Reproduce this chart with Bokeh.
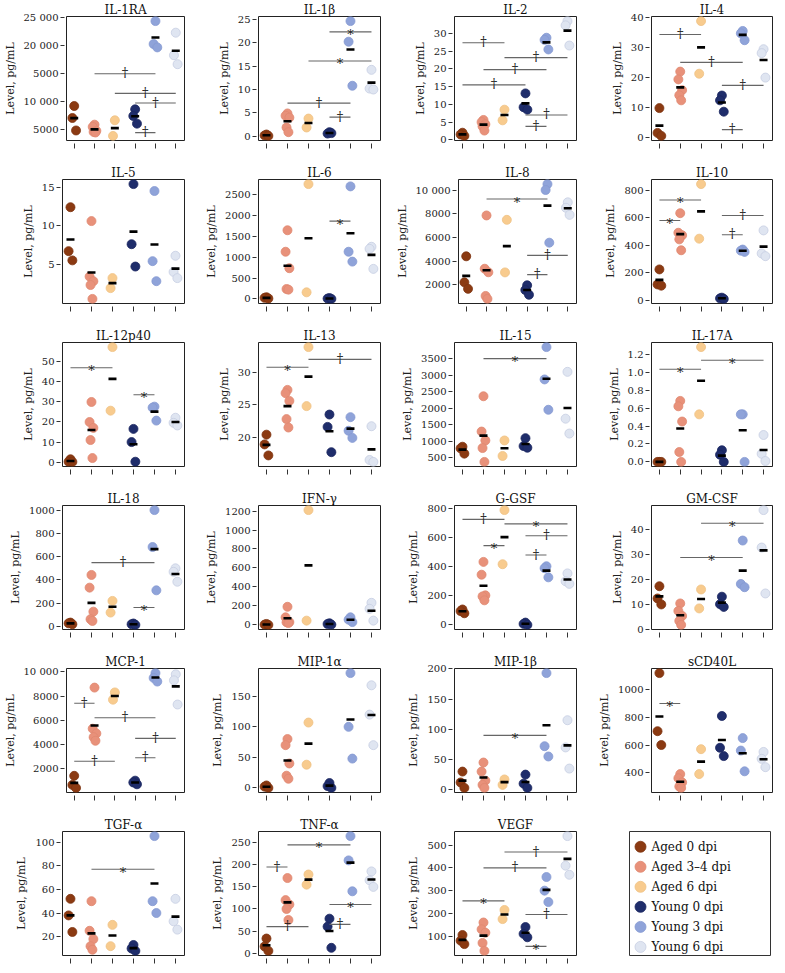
import numpy as np
from bokeh.plotting import figure
from bokeh.models import Range1d, FixedTicker
from bokeh.layouts import column, row
from bokeh.embed import file_html
from bokeh.resources import INLINE
from bokeh.core.properties import value

# ---------------- data ----------------
GROUPS = ["Aged 0 dpi", "Aged 3–4 dpi", "Aged 6 dpi", "Young 0 dpi", "Young 3 dpi", "Young 6 dpi"]
FILL = ["#8b3a12", "#e8917a", "#f8cb8e", "#1f2d6b", "#8fa3d9", "#dfe5f1"]
EDGE = ["#7d3410", "#df8870", "#efc184", "#1a2660", "#8599d2", "#c6cee2"]

IL1RA = [[9230, 7090, 4860], [5900, 5500, 4800, 4600, 4500], [6680, 3890], [8640, 7450, 6080], [24400, 20300, 19700], [22330, 18300, 16700]]
IL1RA_TICKS = [5000, 10000, 15000, 20000, 25000]
IL1RA_LABELS = ["5000", "10 000", "5000", "20 000", "25 000"]
IL1RA_SIG = [(2, 5, 15000, "†"), (3, 6, 11480, "†"), (4, 6, 9760, "†"), (4, 5, 4480, "†")]

IL1B = [[0.4, 0.2, 0.1], [4.9, 4.4, 4.0, 1.9, 0.9], [3.8, 1.9], [0.9, 0.6, 0.7], [24.6, 20.2, 10.8], [14.2, 10.2, 10.0]]
IL1B_TICKS = [0, 5, 10, 15, 20, 25]
IL1B_LABELS = ["0", "5", "10", "15", "20", "25"]
IL1B_SIG = [(4, 6, 22.3, "*"), (3, 6, 16.1, "*"), (2, 5, 7.1, "†"), (4, 5, 4.1, "†")]

IL2 = [[2.0, 1.5, 1.1], [5.6, 5.0, 4.4, 3.8, 2.6], [8.5, 5.5], [13.1, 9.2, 8.5], [28.8, 28.2, 25.5], [33.5, 32.3, 26.6]]
IL2_TICKS = [0, 5, 10, 15, 20, 25, 30]
IL2_LABELS = ["0", "5", "10", "15", "20", "25", "30"]
IL2_SIG = [(1, 3, 27.4, "†"), (3, 6, 23.2, "†"), (2, 5, 19.8, "†"), (1, 4, 15.5, "†"), (4, 6, 7.0, "†"), (4, 5, 3.8, "†")]

IL4 = [[9.8, 1.5, 0.5], [22.0, 19.4, 15.8, 14.1, 12.4], [38.9, 21.3], [14.0, 12.4, 8.6], [35.6, 34.8, 32.5], [29.5, 28.2, 20.0]]
IL4_TICKS = [0, 10, 20, 30, 40]
IL4_LABELS = ["0", "10", "20", "30", "40"]
IL4_SIG = [(1, 3, 34.4, "†"), (2, 5, 25.1, "†"), (4, 6, 17.4, "†"), (4, 5, 2.6, "†")]

IL5 = [[12.4, 6.7, 5.5], [10.6, 3.4, 2.8, 2.3, 0.5], [3.2, 1.9], [15.4, 7.6, 4.7], [14.5, 5.4, 2.8], [6.1, 4.0, 3.2]]
IL5_TICKS = [5, 10, 15]
IL5_LABELS = ["5", "10", "15"]
IL5_SIG = []

IL6 = [[40, 25, 10], [1646, 1131, 736, 237, 222], [2753, 158], [20, 8, 0], [2698, 1131, 894], [1250, 1200, 720]]
IL6_TICKS = [0, 500, 1000, 1500, 2000, 2500]
IL6_LABELS = ["0", "500", "1000", "1500", "2000", "2500"]
IL6_SIG = [(4, 5, 1865, "*")]

IL8 = [[4400, 2200, 1650], [7850, 3350, 3050, 1050, 800], [7480, 3040], [1950, 1550, 1150], [10500, 10000, 5550], [8960, 8500, 7900]]
IL8_TICKS = [2000, 4000, 6000, 8000, 10000]
IL8_LABELS = ["2000", "4000", "6000", "8000", "10 000"]
IL8_SIG = [(2, 5, 9240, "*"), (4, 6, 4480, "†"), (4, 5, 2850, "†")]

IL10 = [[224, 115, 106], [632, 490, 472, 442, 363], [843, 447], [19, 14, 10], [368, 360, 351], [507, 340, 320]]
IL10_TICKS = [0, 200, 400, 600, 800]
IL10_LABELS = ["0", "200", "400", "600", "800"]
IL10_SIG = [(1, 3, 728, "*"), (1, 2, 579, "*"), (4, 6, 615, "†"), (4, 5, 476, "†")]

IL12 = [[1.5, 0.3, 0.2], [29.8, 19.9, 17.0, 11.0, 2.1], [56.9, 25.5], [16.5, 10.0, 0.3], [27.5, 27.0, 20.6], [22.0, 19.5, 18.2]]
IL12_TICKS = [0, 10, 20, 30, 40, 50]
IL12_LABELS = ["0", "10", "20", "30", "40", "50"]
IL12_SIG = [(1, 3, 46.7, "*"), (4, 5, 33.4, "*")]

IL13 = [[20.4, 18.9, 17.2], [27.3, 26.8, 25.6, 22.8, 21.5], [33.9, 24.8], [23.5, 21.6, 17.7], [23.1, 21.0, 19.9], [21.7, 16.5, 16.2]]
IL13_TICKS = [20, 25, 30]
IL13_LABELS = ["20", "25", "30"]
IL13_SIG = [(1, 3, 30.8, "*"), (3, 6, 32.0, "†")]

IL15 = [[830, 780, 620], [2360, 1290, 1020, 790, 370], [1020, 550], [1090, 850, 800], [3850, 2870, 1950], [3100, 1680, 1230]]
IL15_TICKS = [500, 1000, 1500, 2000, 2500, 3000, 3500]
IL15_LABELS = ["500", "1000", "1500", "2000", "2500", "3000", "3500"]
IL15_SIG = [(2, 5, 3500, "*")]

IL17 = [[0.0, 0.0, 0.0], [0.68, 0.62, 0.45, 0.11, 0.0], [1.28, 0.53], [0.13, 0.08, 0.0], [0.53, 0.53, 0.0], [0.30, 0.09, 0.01]]
IL17_TICKS = [0.0, 0.2, 0.4, 0.6, 0.8, 1.0, 1.2]
IL17_LABELS = ["0.0", "0.2", "0.4", "0.6", "0.8", "1.0", "1.2"]
IL17_SIG = [(1, 3, 1.033, "*"), (3, 6, 1.133, "*")]

IL18 = [[34, 28, 20], [443, 334, 128, 63, 48], [220, 120], [26, 20, 14], [1000, 683, 311], [500, 470, 385]]
IL18_TICKS = [0, 200, 400, 600, 800, 1000]
IL18_LABELS = ["0", "200", "400", "600", "800", "1000"]
IL18_SIG = [(2, 5, 549, "†"), (4, 5, 163, "*")]

IFNG = [[10, 3, 0], [191, 80, 30, 28, 20], [1210, 45], [17, 10, 3], [80, 55, 30], [233, 170, 45]]
IFNG_TICKS = [0, 200, 400, 600, 800, 1000, 1200]
IFNG_LABELS = ["0", "200", "400", "600", "800", "1000", "1200"]
IFNG_SIG = []

GCSF = [[106, 95, 80], [433, 345, 203, 196, 169], [789, 417], [16, 7, 0], [403, 390, 327], [354, 300, 282]]
GCSF_TICKS = [0, 200, 400, 600, 800]
GCSF_LABELS = ["0", "200", "400", "600", "800"]
GCSF_SIG = [(1, 3, 725, "†"), (3, 6, 694, "*"), (4, 6, 613, "†"), (2, 3, 545, "*"), (4, 5, 480, "†")]

GMCSF = [[17.2, 12.3, 9.9], [10.3, 7.3, 5.3, 3.3, 1.7], [15.9, 8.3], [13.0, 10.0, 8.9], [35.5, 18.1, 16.8], [47.7, 32.7, 14.3]]
GMCSF_TICKS = [0, 10, 20, 30, 40]
GMCSF_LABELS = ["0", "10", "20", "30", "40"]
GMCSF_SIG = [(3, 6, 42.4, "*"), (2, 5, 28.7, "*")]

MCP1 = [[1400, 650, 400], [8700, 5300, 4900, 4600, 4300], [8300, 7700], [1000, 850, 700], [9900, 9500, 9200], [9800, 9300, 7300]]
MCP1_TICKS = [2000, 4000, 6000, 8000, 10000]
MCP1_LABELS = ["2000", "4000", "6000", "8000", "10 000"]
MCP1_SIG = [(1, 2, 7400, "†"), (2, 5, 6200, "†"), (4, 6, 4500, "†"), (1, 3, 2600, "†"), (4, 5, 2900, "†")]

MIP1A = [[4, 2, 0], [80, 70, 40, 20, 15], [107, 38], [8, 3, 0], [188, 100, 48], [168, 120, 70]]
MIP1A_TICKS = [0, 50, 100, 150]
MIP1A_LABELS = ["0", "50", "100", "150"]
MIP1A_SIG = []

MIP1B = [[30, 12, 3], [45, 30, 15, 8, 3], [17, 8], [25, 10, 3], [193, 72, 55], [115, 70, 35]]
MIP1B_TICKS = [0, 50, 100, 150, 200]
MIP1B_LABELS = ["0", "50", "100", "150", "200"]
MIP1B_SIG = [(2, 5, 90, "*")]

CD40L = [[1120, 700, 600], [390, 360, 330, 300, 290], [570, 390], [810, 580, 520], [650, 560, 410], [550, 500, 440]]
CD40L_TICKS = [400, 600, 800, 1000]
CD40L_LABELS = ["400", "600", "800", "1000"]
CD40L_SIG = [(1, 2, 900, "*")]

TGFA = [[52, 38, 24], [50, 25, 18, 12, 9], [30, 12], [13, 10, 8], [105, 50, 40], [52, 33, 26]]
TGFA_TICKS = [20, 40, 60, 80, 100]
TGFA_LABELS = ["20", "40", "60", "80", "100"]
TGFA_SIG = [(2, 5, 77, "*")]

TNFA = [[33, 15, 5], [170, 120, 110, 100, 75], [178, 155], [78, 60, 12], [265, 210, 140], [185, 165, 150]]
TNFA_TICKS = [0, 50, 100, 150, 200, 250]
TNFA_LABELS = ["0", "50", "100", "150", "200", "250"]
TNFA_SIG = [(1, 2, 195, "†"), (2, 5, 245, "*"), (1, 3, 60, "†"), (4, 6, 110, "*"), (4, 5, 65, "†")]

VEGF = [[105, 80, 65], [160, 130, 115, 70, 35], [215, 175], [140, 110, 95], [360, 300, 250], [540, 410, 370]]
VEGF_TICKS = [100, 200, 300, 400, 500]
VEGF_LABELS = ["100", "200", "300", "400", "500"]
VEGF_SIG = [(1, 3, 255, "*"), (2, 5, 400, "†"), (3, 6, 470, "†"), (4, 6, 195, "†"), (4, 5, 55, "*")]

PANELS = [
    ("IL-1RA", IL1RA, IL1RA_TICKS, IL1RA_LABELS, IL1RA_SIG),
    ("IL-1β", IL1B, IL1B_TICKS, IL1B_LABELS, IL1B_SIG),
    ("IL-2", IL2, IL2_TICKS, IL2_LABELS, IL2_SIG),
    ("IL-4", IL4, IL4_TICKS, IL4_LABELS, IL4_SIG),
    ("IL-5", IL5, IL5_TICKS, IL5_LABELS, IL5_SIG),
    ("IL-6", IL6, IL6_TICKS, IL6_LABELS, IL6_SIG),
    ("IL-8", IL8, IL8_TICKS, IL8_LABELS, IL8_SIG),
    ("IL-10", IL10, IL10_TICKS, IL10_LABELS, IL10_SIG),
    ("IL-12p40", IL12, IL12_TICKS, IL12_LABELS, IL12_SIG),
    ("IL-13", IL13, IL13_TICKS, IL13_LABELS, IL13_SIG),
    ("IL-15", IL15, IL15_TICKS, IL15_LABELS, IL15_SIG),
    ("IL-17A", IL17, IL17_TICKS, IL17_LABELS, IL17_SIG),
    ("IL-18", IL18, IL18_TICKS, IL18_LABELS, IL18_SIG),
    ("IFN-γ", IFNG, IFNG_TICKS, IFNG_LABELS, IFNG_SIG),
    ("G-GSF", GCSF, GCSF_TICKS, GCSF_LABELS, GCSF_SIG),
    ("GM-CSF", GMCSF, GMCSF_TICKS, GMCSF_LABELS, GMCSF_SIG),
    ("MCP-1", MCP1, MCP1_TICKS, MCP1_LABELS, MCP1_SIG),
    ("MIP-1α", MIP1A, MIP1A_TICKS, MIP1A_LABELS, MIP1A_SIG),
    ("MIP-1β", MIP1B, MIP1B_TICKS, MIP1B_LABELS, MIP1B_SIG),
    ("sCD40L", CD40L, CD40L_TICKS, CD40L_LABELS, CD40L_SIG),
    ("TGF-α", TGFA, TGFA_TICKS, TGFA_LABELS, TGFA_SIG),
    ("TNF-α", TNFA, TNFA_TICKS, TNFA_LABELS, TNFA_SIG),
    ("VEGF", VEGF, VEGF_TICKS, VEGF_LABELS, VEGF_SIG),
]

# ---------------- style ----------------
FONT = "DejaVu Serif"
SPREAD = [0.0, -0.09, 0.09, -0.045, 0.045]
ROW_H = 163
LAST_ROW_H = 150
TOP = 15
FRAME_H = 125
SYM_COLOR = "#1e1e1e"


def make_panel(name, data, ticks, labels, sig, col, last_row):
    last = col == 3
    h = LAST_ROW_H if last_row else ROW_H
    p = figure(width=188 if last else 196, height=h, output_backend="svg",
               toolbar_location=None, title=name,
               min_border_left=63 if last else 62, min_border_right=4 if last else 12,
               min_border_top=TOP, min_border_bottom=h - TOP - FRAME_H)
    allv = np.concatenate([np.asarray(g, float) for g in data])
    lo, hi = allv.min(), allv.max()
    pad = 0.04 * (hi - lo)
    p.y_range = Range1d(lo - pad, hi + pad)
    p.x_range = Range1d(0.62, 6.43)

    xs, ys, fc, lc = [], [], [], []
    for gi, g in enumerate(data):
        for k, v in enumerate(g):
            xs.append(gi + 1 + SPREAD[k % len(SPREAD)])
            ys.append(v)
            fc.append(FILL[gi])
            lc.append(EDGE[gi])
    p.scatter(xs, ys, size=9, fill_color=fc, line_color=lc, line_width=0.8)

    means = [float(np.mean(g)) for g in data]
    p.scatter(list(range(1, 7)), means, marker="dash", size=8, line_color="black", line_width=2.6)

    if sig:
        x0 = [s[0] for s in sig]
        x1 = [s[1] for s in sig]
        yy = [s[2] for s in sig]
        p.segment(x0, yy, x1, yy, line_color="#666666", line_width=1.1)
        for s in sig:
            mid = (s[0] + s[1]) / 2
            if s[3] == "†":
                p.text([mid], [s[2]], text=[s[3]], text_align="center", text_baseline="alphabetic",
                       text_font=value(FONT), text_font_size="13px", text_color=SYM_COLOR, y_offset=-1)
            else:
                p.text([mid], [s[2]], text=[s[3]], text_align="center", text_baseline="alphabetic",
                       text_font=value(FONT), text_font_size="13px", text_color=SYM_COLOR, y_offset=3)

    p.title.text_font = FONT
    p.title.text_font_size = "12px"
    p.title.text_font_style = "normal"
    p.title.align = "center"
    p.title.standoff = 0
    p.title.text_color = "#111111"

    p.xgrid.visible = False
    p.ygrid.visible = False
    p.outline_line_color = "#222222"
    p.outline_line_width = 1
    p.background_fill_color = "white"
    p.border_fill_color = "white"

    ya = p.yaxis[0]
    ya.ticker = FixedTicker(ticks=ticks)
    ya.major_label_overrides = {t: lab for t, lab in zip(ticks, labels)}
    ya.major_label_text_font = FONT
    ya.major_label_text_font_size = "10px"
    ya.major_label_text_color = "#222222"
    ya.major_label_standoff = 2
    ya.major_tick_in = -2
    ya.major_tick_out = 6
    ya.major_tick_line_color = "#333333"
    ya.minor_tick_line_color = None
    ya.axis_line_color = None
    ya.axis_label = "Level, pg/mL"
    ya.axis_label_text_font = FONT
    ya.axis_label_text_font_size = "11px"
    ya.axis_label_text_font_style = "normal"
    ya.axis_label_text_color = "#222222"
    ya.axis_label_standoff = 4

    xa = p.xaxis[0]
    xa.ticker = FixedTicker(ticks=[1, 2, 3, 4, 5, 6])
    xa.major_label_overrides = {i: "" for i in range(1, 7)}
    xa.major_label_text_font_size = "1px"
    xa.major_label_standoff = 0
    xa.major_tick_in = -3
    xa.major_tick_out = 8
    xa.major_tick_line_color = "#333333"
    xa.minor_tick_line_color = None
    xa.axis_line_color = None
    return p


def make_legend():
    lg = figure(width=188, height=LAST_ROW_H, output_backend="svg", toolbar_location=None,
                x_axis_location=None, y_axis_location=None,
                min_border_left=41, min_border_right=6, min_border_top=13, min_border_bottom=7,
                x_range=Range1d(0, 141), y_range=Range1d(0, 130))
    lg.xgrid.visible = False
    lg.ygrid.visible = False
    lg.outline_line_color = "#333333"
    lg.outline_line_width = 1
    ypos = [130 - 16 - 21 * i for i in range(len(GROUPS))]
    lg.scatter([11] * len(GROUPS), ypos, size=11, fill_color=FILL, line_color=EDGE, line_width=0.8)
    lg.text([22] * len(GROUPS), ypos, text=GROUPS, text_baseline="middle", text_align="left",
            text_font=value(FONT), text_font_size="12px", text_color="#111111")
    return lg


figs = [make_panel(*pp, col=i % 4, last_row=(i >= 20)) for i, pp in enumerate(PANELS)]
figs.append(make_legend())
rows = [row(*figs[i:i + 4], spacing=0) for i in range(0, len(figs), 4)]
layout = column(*rows, spacing=0)

open("out.html", "w").write(file_html(layout, INLINE))
